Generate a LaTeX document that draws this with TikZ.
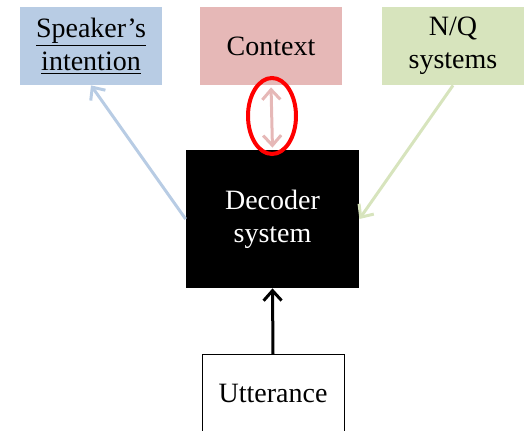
\documentclass[tikz,border=0pt]{standalone}
\usepackage{fontspec}
\setmainfont{Liberation Serif}
\usepackage{xcolor}
\usetikzlibrary{positioning,arrows.meta,shapes.geometric}

\begin{document}
\begin{tikzpicture}[x=0.5pt,y=-0.5pt]
	\definecolor{spkblue}{RGB}{184,204,228}
	\definecolor{ctxpink}{RGB}{230,184,183}
	\definecolor{nqgreen}{RGB}{215,228,189}
	\tikzset{
		topbox/.style={
			rectangle, inner sep=0pt, align=center,
			minimum width=71pt, minimum height=39pt,
			font=\fontsize{14}{16.5}\selectfont
		},
		link/.style={
			-{Straight Barb[length=5pt,width=9pt,line width=1.5pt]},
			line width=1.5pt
		},
		duallink/.style={
			{Straight Barb[length=5pt,width=9pt,line width=1.5pt]}-{Straight Barb[length=5pt,width=9pt,line width=1.5pt]},
			line width=1.5pt
		}
	}

	\clip (0,0) rectangle (524,431);

	% ======= top row =======
	\node[topbox, fill=spkblue] (speaker) at (91,46) {\underline{Speaker’s}\\\underline{intention}};
	\node[topbox, fill=ctxpink] (context) at (271,46) {Context};
	\node[topbox, fill=nqgreen] (nq) at (453,46) {N/Q\\systems};

	% ======= decoder and input =======
	\node[topbox, fill=black, text=white, minimum width=86.5pt, minimum height=69pt] (decoder) at (272.5,219) {Decoder\\system};
	\node[topbox, draw=black, line width=0.5pt, fill=white, minimum height=45pt, text height=10pt, text depth=7.5pt] (utter) at (273,400) {Utterance};

	% ======= links =======
	\draw[link, draw=spkblue] (decoder.west) -- (speaker.south);
	\draw[link, draw=nqgreen] (nq.south) -- (decoder.east);
	\draw[link, draw=black] (utter.north) -- (decoder.south);
	\draw[duallink, draw=ctxpink, shorten <=1pt, shorten >=1pt] (context.south) -- (decoder.north);

	% ======= highlight =======
	\node[ellipse, draw=red, line width=2pt, minimum width=24pt, minimum height=38pt, inner sep=0pt] (ring) at (272,116) {};
\end{tikzpicture}
\end{document}
